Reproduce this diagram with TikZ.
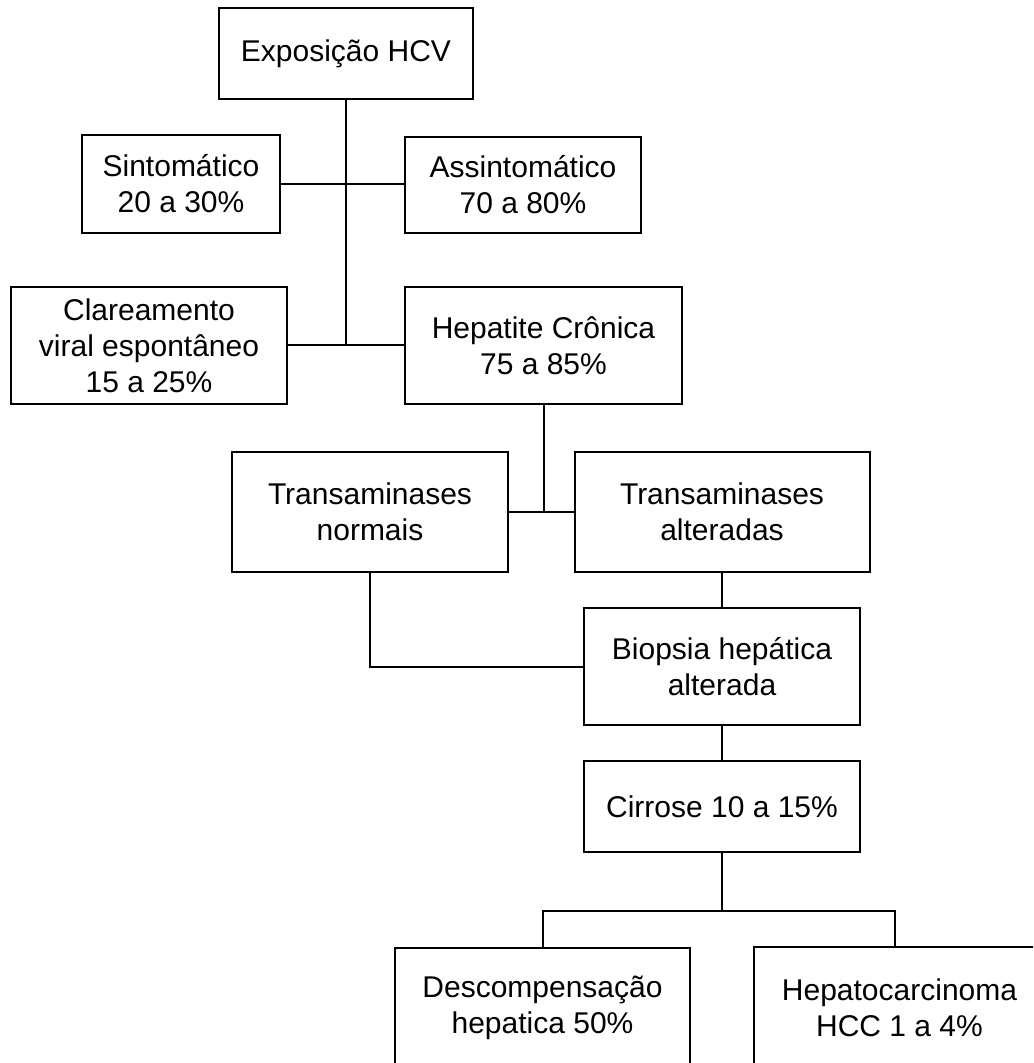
\documentclass[tikz,border=0pt]{standalone}
\usepackage{fontspec}
\setmainfont{Liberation Sans}
\usepackage{tikz}
\usetikzlibrary{positioning, calc}

\begin{document}
\begin{tikzpicture}[
    x=0.5pt, y=-0.5pt,
    box/.style={draw, line width=1pt, align=center, inner sep=2pt,
                font=\fontsize{15}{18}\selectfont},
    link/.style={line width=1pt},
]
\useasboundingbox (0, 0) rectangle (1033, 1063);
\clip (0, 0) rectangle (1033, 1063);

% --- Exposure ---
\node[box, minimum width=127pt, minimum height=45.5pt] (expo) at (346, 53.5)
    {Exposição HCV};

% --- Acute phase ---
\node[box, minimum width=99pt, minimum height=49pt] (sinto) at (181, 184)
    {Sintomático\\20 a 30\%};
\node[box, minimum width=118pt, minimum height=48pt] (assinto) at (523, 185)
    {Assintomático\\70 a 80\%};

% --- Outcome ---
\node[box, minimum width=138pt, minimum height=58.5pt] (clar) at (149, 345.5)
    {Clareamento\\viral espontâneo\\15 a 25\%};
\node[box, minimum width=138.5pt, minimum height=58.5pt] (hepa) at (543.5, 345.5)
    {Hepatite Crônica\\75 a 85\%};

% --- Transaminases ---
\node[box, minimum width=138pt, minimum height=60pt] (tnorm) at (370, 512)
    {Transaminases\\normais};
\node[box, minimum width=147.5pt, minimum height=60pt] (talt) at (722, 512)
    {Transaminases\\alteradas};

% --- Biopsy and cirrhosis ---
\node[box, minimum width=138pt, minimum height=58.5pt] (bio) at (722, 666.5)
    {Biopsia hepática\\alterada};
\node[box, minimum width=138pt, minimum height=45.5pt] (cirr) at (722, 806.5)
    {Cirrose 10 a 15\%};

% --- Complications ---
\node[box, minimum width=147.5pt, minimum height=60pt] (desc) at (542.5, 1008)
    {Descompensação\\hepatica 50\%};
\node[box, minimum width=145.5pt, minimum height=61pt] (hepato) at (899.5, 1008)
    {Hepatocarcinoma\\HCC 1 a 4\%};

\coordinate (bus) at (722, 911);

% --- Connections ---
\draw[link] (expo.south) -- (expo.south |- hepa.west);
\draw[link] (sinto.east) -- (sinto.east -| assinto.west);
\draw[link] (clar.east) -- (hepa.west);
\draw[link] (hepa.south) -- (hepa.south |- tnorm.east);
\draw[link] (tnorm.east) -- (talt.west);
\draw[link] (talt.south) -- (bio.north);
\draw[link] (tnorm.south) |- (bio.west);
\draw[link] (bio.south) -- (cirr.north);
\draw[link] (cirr.south) -- (bus);
\draw[link] (desc.north) |- (bus) -| ($(hepato.north)+(-5,0)$);
\end{tikzpicture}
\end{document}
